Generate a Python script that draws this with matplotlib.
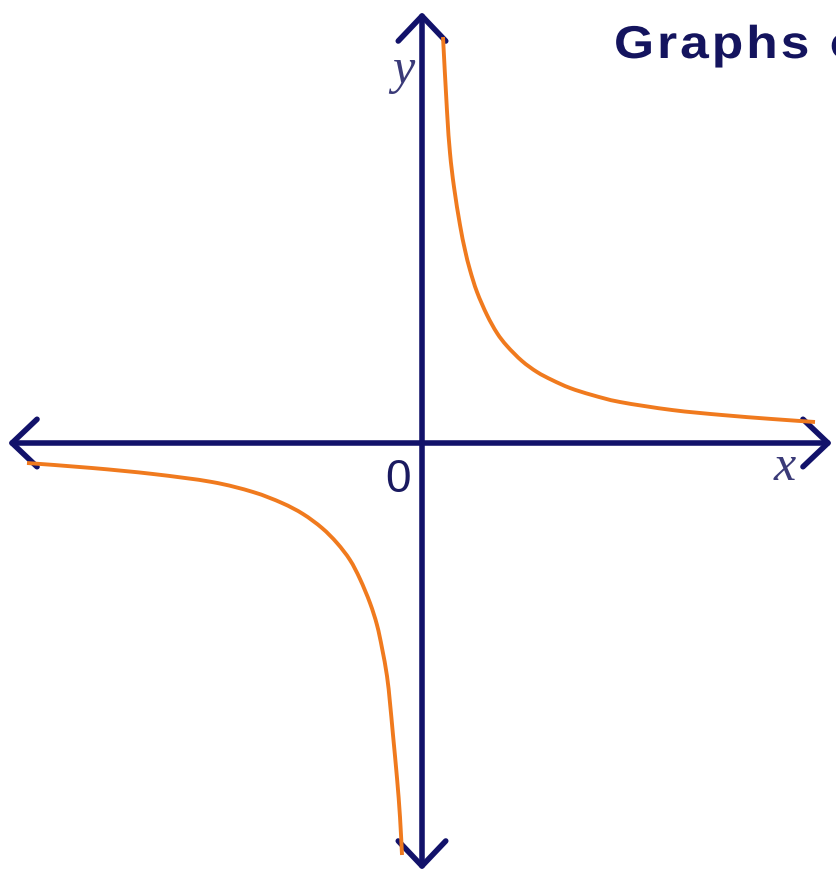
import matplotlib
matplotlib.use("Agg")
import matplotlib.pyplot as plt
from matplotlib.path import Path
from matplotlib.patches import PathPatch
from matplotlib.textpath import TextPath, TextToPath
from matplotlib.font_manager import FontProperties
from matplotlib.transforms import Affine2D

#------------------------------------------------------------------------------
#Points (1 unit = 100 px, origin where axes cross)

upper_x = [0.21, 0.25, 0.28, 0.32, 0.38, 0.43, 0.48, 0.55, 0.65, 0.75, 0.85,
           1.00, 1.15, 1.30, 1.48, 1.70, 1.98, 2.50, 3.00, 3.50, 3.93]
upper_y = [4.06, 3.32, 2.90, 2.56, 2.18, 1.93, 1.73, 1.51, 1.28, 1.10, 0.97,
           0.82, 0.71, 0.63, 0.55, 0.48, 0.41, 0.33, 0.28, 0.24, 0.21]

lower_x = [-3.95, -3.30, -2.69, -2.10, -1.69, -1.40, -1.19, -1.00, -0.85,
           -0.72, -0.62, -0.52, -0.45, -0.40, -0.35, -0.32, -0.29, -0.25,
           -0.22, -0.20]
lower_y = [-0.20, -0.25, -0.31, -0.39, -0.49, -0.60, -0.71, -0.85, -1.00,
           -1.17, -1.36, -1.60, -1.82, -2.05, -2.33, -2.60, -2.92, -3.35,
           -3.74, -4.12]

axis_labels = ["x", "y", "0"]
title_text = "Graphs of"

#------------------------------------------------------------------------------

navy = "#12126a"
orange = "#f07a1e"


def smooth_path(xs, ys):
    #Catmull-Rom through the read points, drawn as cubic bezier pieces
    pts = list(zip(xs, ys))
    verts = [pts[0]]
    codes = [Path.MOVETO]
    n = len(pts)
    for i in range(n - 1):
        p0 = pts[max(i - 1, 0)]
        p1 = pts[i]
        p2 = pts[i + 1]
        p3 = pts[min(i + 2, n - 1)]
        c1 = (p1[0] + (p2[0] - p0[0]) / 6, p1[1] + (p2[1] - p0[1]) / 6)
        c2 = (p2[0] - (p3[0] - p1[0]) / 6, p2[1] - (p3[1] - p1[1]) / 6)
        verts += [c1, c2, p2]
        codes += [Path.CURVE4] * 3
    return Path(verts, codes)


fig = plt.figure(figsize=(8.36, 8.75), dpi=100)
ax = fig.add_axes([0, 0, 1, 1])
ax.set_xlim(-4.22, 4.14)
ax.set_ylim(-4.32, 4.43)
ax.axis("off")

arrow = dict(arrowstyle="<->, head_length=0.4, head_width=0.38", lw=4,
             color=navy, mutation_scale=45, shrinkA=0, shrinkB=0)
ax.annotate("", xy=(4.10, 0), xytext=(-4.14, 0), arrowprops=arrow)           #x axis
ax.annotate("", xy=(0, 4.31), xytext=(0, -4.27), arrowprops=arrow)           #y axis

for xs, ys in [(upper_x, upper_y), (lower_x, lower_y)]:
    ax.add_patch(PathPatch(smooth_path(xs, ys), facecolor="none",
                           edgecolor=orange, lw=2.8, capstyle="butt", zorder=3))

ax.text(3.63, -0.25, axis_labels[0], family="Liberation Serif", style="italic",
        fontsize=36, color="#3a3a78", ha="center", va="center")
ax.text(-0.19, 3.72, axis_labels[1], family="Liberation Serif", style="italic",
        fontsize=36, color="#3a3a78", ha="center", va="center")
ax.text(-0.24, -0.37, axis_labels[2], family="Liberation Sans",
        fontsize=33, color="#1a1a60", ha="center", va="center")

#title font is a bit wider than bold Liberation Sans: stretch slightly and add
#a little letter spacing (pixel units, cut off at the right like the original)
prop = FontProperties(family="Liberation Sans", weight="bold", size=46)
t2p = TextToPath()
stretch = 1.12
tracking = 3
for i, ch in enumerate(title_text):
    if ch == " ":
        continue
    pre = t2p.get_text_width_height_descent(title_text[:i], prop, ismath=False)[0] if i else 0
    tp = TextPath((0, 0), ch, prop=prop)
    fig.patches.append(PathPatch(tp, facecolor="#14145e", edgecolor="none",
                                 transform=Affine2D().scale(stretch, 1.0)
                                 .translate(614 + pre * stretch + i * tracking, 817)))

fig.savefig("out.png", dpi=100)
